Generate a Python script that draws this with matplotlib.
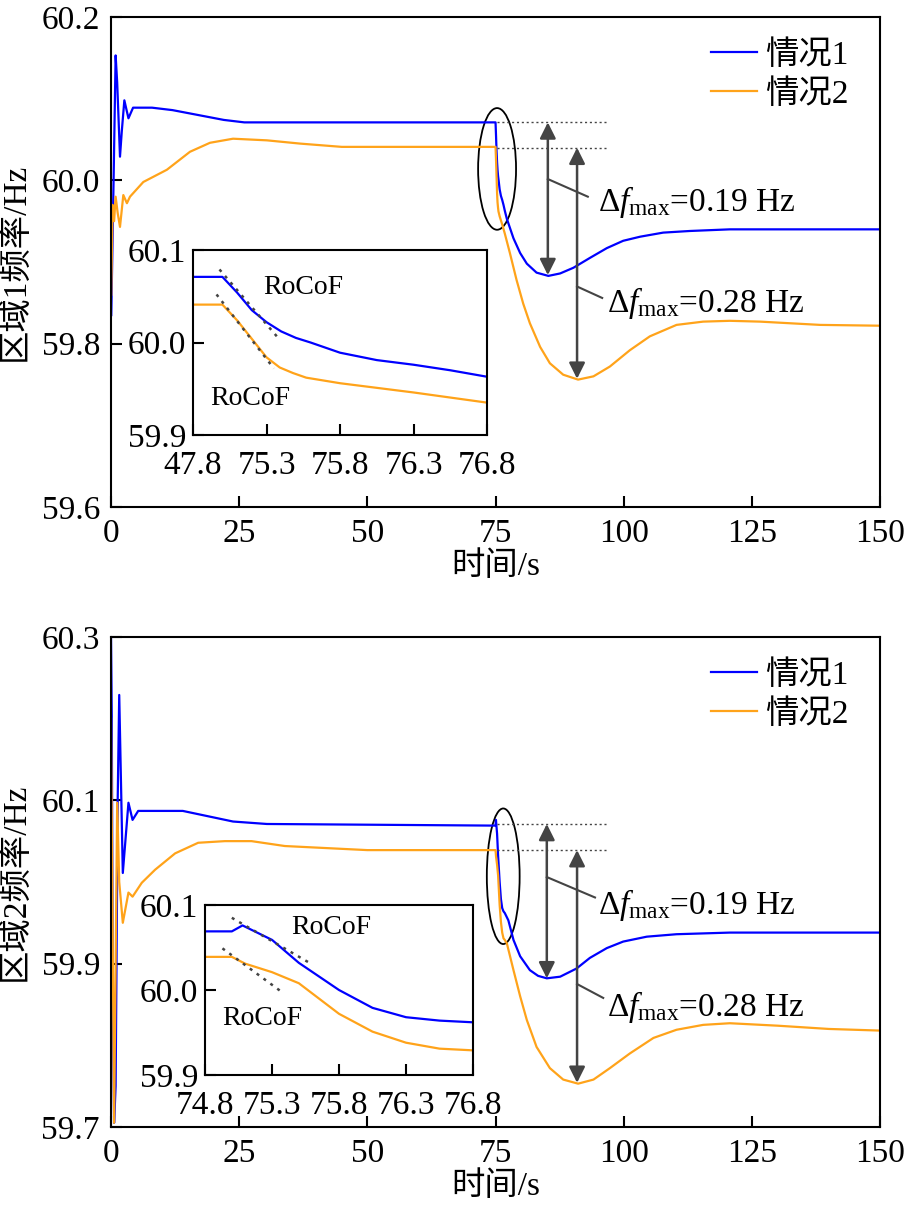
import matplotlib
matplotlib.use('Agg')
import matplotlib.pyplot as plt
from matplotlib.patches import Ellipse

plt.rcParams['font.family'] = ['Liberation Serif', 'Noto Sans CJK SC']
plt.rcParams['mathtext.fontset'] = 'custom'
plt.rcParams['mathtext.rm'] = 'Liberation Serif'
plt.rcParams['mathtext.it'] = 'Liberation Serif:italic'
plt.rcParams['font.size'] = 24

# ---- data: area 1 ----
t1_c1 = [0.05, 0.5, 0.9, 1.2, 1.75, 2.1, 2.6, 3.4, 4.3, 8, 12, 17, 22, 26, 75.0,
         75.1, 75.2, 75.3, 75.4, 75.5, 75.6, 75.8, 76.05, 76.3, 76.55, 76.8, 77.2, 78.5,
         79.8, 81.1, 83.0, 85.3, 87.6, 90.2, 93.4, 96.7, 99.9, 103.2, 107.7, 112.9,
         120.7, 150]
f1_c1 = [59.835, 60.0, 60.153, 60.12, 60.029, 60.06, 60.098, 60.076, 60.089, 60.089,
         60.086, 60.080, 60.074, 60.071, 60.071,
         60.054, 60.035, 60.022, 60.012, 60.005, 60.0, 59.989, 59.981, 59.976, 59.970,
         59.963, 59.953, 59.929, 59.911, 59.898, 59.887, 59.883, 59.886, 59.893, 59.905,
         59.917, 59.926, 59.931, 59.936, 59.938, 59.940, 59.940]
t1_c2 = [0.05, 0.3, 0.6, 0.9, 1.3, 1.75, 2.4, 3.1, 3.7, 6.3, 10.9, 15.4, 19.3, 23.8,
         30.4, 36.9, 45, 75.0, 75.1, 75.2, 75.3, 75.39, 75.48, 75.57, 75.8, 76.3, 76.8,
         77.8, 79.1, 80.4, 81.7, 83.7, 85.6, 88.2, 91.1, 94.1, 97.3, 101.2, 105.1, 110.3,
         115.5, 120.7, 126.6, 138.3, 150]
f1_c2 = [59.86, 59.97, 59.95, 59.98, 59.96, 59.943, 59.982, 59.972, 59.98, 59.998,
         60.013, 60.035, 60.046, 60.051, 60.049, 60.045, 60.041, 60.041, 60.024, 60.004,
         59.984, 59.973, 59.967, 59.962, 59.956, 59.946, 59.935, 59.911, 59.878, 59.849,
         59.825, 59.796, 59.776, 59.762, 59.756, 59.760, 59.772, 59.792, 59.809, 59.823,
         59.827, 59.828, 59.827, 59.823, 59.822]

# ---- data: area 2 ----
t2_c1 = [0, 0.15, 0.35, 0.6, 0.9, 1.3, 1.6, 2.3, 3.4, 4.2, 5.3, 7.6, 14, 23.8, 30.4,
         75.0, 75.08, 75.3, 75.5, 75.8, 76.05, 76.3, 76.55, 76.8, 77.5, 78.5, 79.8,
         81.7, 83.3, 85.0, 87.6, 90.8, 93.4, 96.7, 99.9, 104.5, 110.3, 120.7, 150]
f2_c1 = [60.3, 60.2, 59.85, 59.705, 59.75, 60.1, 60.229, 60.011, 60.097, 60.076,
         60.087, 60.087, 60.087, 60.074, 60.071,
         60.069, 60.076, 60.059, 60.032, 60.0, 59.979, 59.968, 59.964, 59.962, 59.953,
         59.929, 59.909, 59.892, 59.885, 59.882, 59.884, 59.894, 59.907, 59.919, 59.927,
         59.933, 59.936, 59.938, 59.938]
t2_c2 = [0, 0.3, 0.6, 0.9, 1.2, 1.6, 2.3, 3.4, 4.2, 6, 8.6, 12.5, 17, 22.2, 27.4,
         33.9, 50, 75.0, 75.1, 75.3, 75.5, 75.8, 76.05, 76.3, 76.55, 76.8, 77.2, 78.5,
         79.8, 81.1, 83.0, 85.6, 88.2, 91.1, 94.1, 97.3, 101.2, 105.8, 110.3, 115.5,
         120.7, 130, 140, 150]
f2_c2 = [60.2, 59.95, 59.705, 59.9, 60.097, 60.0, 59.95, 59.987, 59.982, 59.999,
         60.015, 60.035, 60.048, 60.05, 60.05, 60.044, 60.039, 60.039, 60.031, 60.021,
         60.008, 59.972, 59.951, 59.938, 59.931, 59.929, 59.925, 59.892, 59.860, 59.831,
         59.798, 59.772, 59.758, 59.753, 59.758, 59.772, 59.790, 59.809, 59.819, 59.825,
         59.827, 59.824, 59.820, 59.818]

# RoCoF tangents
tan1_c1 = ([74.98, 75.39], [60.079, 60.003])
tan1_c2 = ([74.96, 75.35], [60.052, 59.972])
tan2_c1 = ([75.0, 75.59], [60.085, 60.031])
tan2_c2 = ([74.93, 75.37], [60.049, 59.998])

labels = ['情况1', '情况2']
BLUE = '#0000ff'
ORANGE = '#ffa31a'
GREY = '#444444'

fig = plt.figure(figsize=(9.1, 12.08), dpi=100)


def style(ax, lw=1.5):
    for s in ax.spines.values():
        s.set_linewidth(lw)
    ax.tick_params(direction='in', length=8, width=1.5, pad=8)


def panel(rect, t_a, f_a, t_b, f_b, ylim, yticks, ylabel, refs, arrows, leaders,
          texts, ell):
    ax = fig.add_axes(rect)
    ax.plot(t_a, f_a, color=BLUE, lw=1.6, label=labels[0])
    ax.plot(t_b, f_b, color=ORANGE, lw=1.6, label=labels[1])
    ax.set_xlim(0, 150)
    ax.set_ylim(*ylim)
    ax.set_xticks([0, 25, 50, 75, 100, 125, 150])
    ax.set_yticks(yticks)
    ax.set_yticklabels(['%.1f' % v for v in yticks])
    ax.set_xlabel('时间/s', labelpad=2)
    ax.set_ylabel(ylabel, labelpad=8)
    style(ax)
    ax.legend(loc='upper right', frameon=False, handlelength=1.4,
              handletextpad=0.25, borderaxespad=0.3, labelspacing=0.25,
              bbox_to_anchor=(0.99, 1.0))
    for v in refs:
        ax.plot([75.3, 96.7], [v, v], color=GREY, lw=1.0, ls=(0, (1.5, 2)))
    for x, y0, y1 in arrows:
        ax.annotate('', xy=(x, y1), xytext=(x, y0),
                    arrowprops=dict(arrowstyle='<|-|>', color=GREY, lw=1.8,
                                    mutation_scale=24, shrinkA=0, shrinkB=0))
    for (x0, y0), (x1, y1) in leaders:
        ax.plot([x0, x1], [y0, y1], color=GREY, lw=1.5)
    for x, y, s in texts:
        ax.text(x, y, s, ha='left', va='center', fontsize=24)
    ax.add_patch(Ellipse(ell[0], ell[1], ell[2], fill=False, edgecolor='black', lw=1.3))
    return ax


def inset(rect, t_a, f_a, t_b, f_b, xlabels, tan_a, tan_b, rocof):
    ax = fig.add_axes(rect)
    ax.plot(t_a, f_a, color=BLUE, lw=1.6)
    ax.plot(t_b, f_b, color=ORANGE, lw=1.6)
    for tx, ty in (tan_a, tan_b):
        ax.plot(tx, ty, color=GREY, lw=1.8, ls=(0, (1.2, 2.2)))
    ax.set_xlim(74.8, 76.8)
    ax.set_ylim(59.9, 60.1)
    ax.set_xticks([74.8, 75.3, 75.8, 76.3, 76.8])
    ax.set_xticklabels(xlabels)
    ax.set_yticks([59.9, 60.0, 60.1])
    ax.set_yticklabels(['59.9', '60.0', '60.1'])
    style(ax)
    ax.tick_params(axis='x', pad=11)
    ax.tick_params(axis='y', pad=5)
    for x, y in rocof:
        ax.text(x, y, 'RoCoF', ha='left', va='center', fontsize=20)
    return ax


panel([0.122, 0.5803, 0.8451, 0.4056], t1_c1, f1_c1, t1_c2, f1_c2,
      (59.6, 60.2), [59.6, 59.8, 60.0, 60.2], '区域1频率/Hz',
      [60.071, 60.040],
      [(85.2, 60.071, 59.884), (90.9, 60.040, 59.757)],
      [((85.2, 60.0016), (93.0, 59.980)), ((90.9, 59.870), (95.8, 59.856))],
      [(95.0, 59.973, r'Δ$f_{\mathrm{max}}$=0.19 Hz'),
       (96.7, 59.850, r'Δ$f_{\mathrm{max}}$=0.28 Hz')],
      ((75.3, 60.014), 7.4, 0.149))

panel([0.122, 0.0671, 0.8451, 0.4056], t2_c1, f2_c1, t2_c2, f2_c2,
      (59.7, 60.3), [59.7, 59.9, 60.1, 60.3], '区域2频率/Hz',
      [60.071, 60.039],
      [(85.0, 60.071, 59.882), (90.9, 60.039, 59.754)],
      [((85.0, 60.006), (94.4, 59.981)), ((90.9, 59.875), (96.0, 59.858))],
      [(95.0, 59.972, r'Δ$f_{\mathrm{max}}$=0.19 Hz'),
       (96.7, 59.847, r'Δ$f_{\mathrm{max}}$=0.28 Hz')],
      ((76.5, 60.007), 6.4, 0.166))

inset([0.2121, 0.6399, 0.3231, 0.1531], t1_c1, f1_c1, t1_c2, f1_c2,
      ['47.8', '75.3', '75.8', '76.3', '76.8'], tan1_c1, tan1_c2,
      [(75.28, 60.06), (74.92, 59.94)])

inset([0.2253, 0.1101, 0.2945, 0.1407], t2_c1, f2_c1, t2_c2, f2_c2,
      ['74.8', '75.3', '75.8', '76.3', '76.8'], tan2_c1, tan2_c2,
      [(75.44, 60.073), (74.93, 59.966)])

fig.savefig('out.png', dpi=100)
